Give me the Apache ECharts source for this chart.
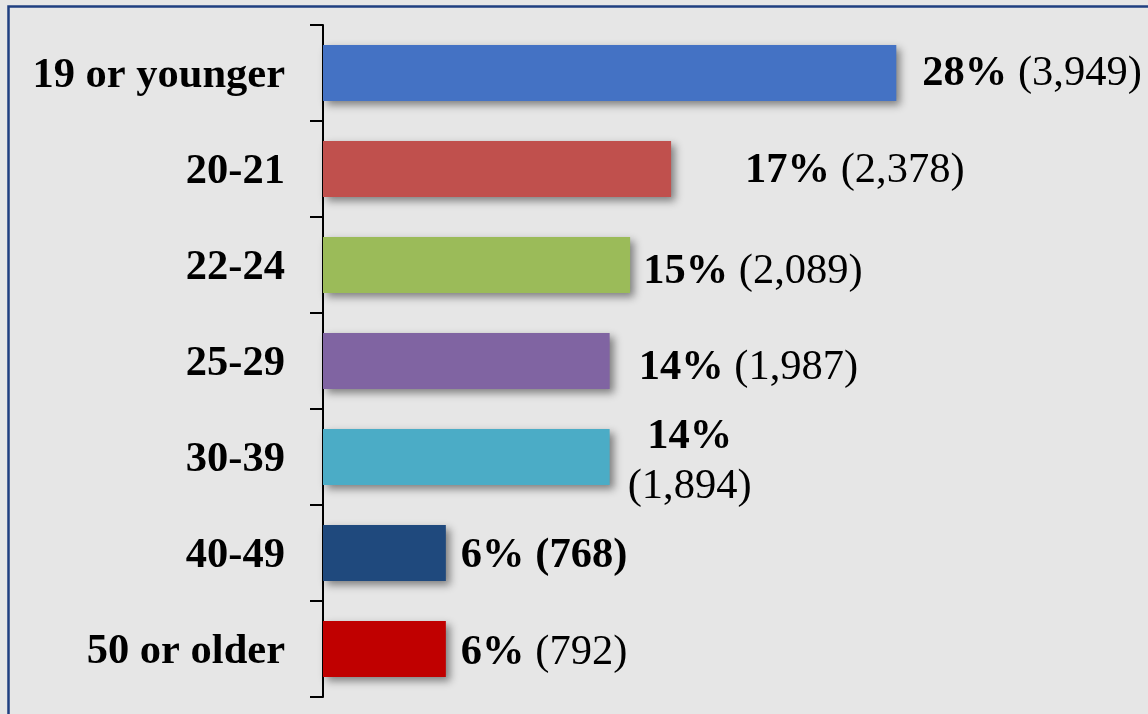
<!DOCTYPE html>
<html>
<head>
<meta charset="utf-8">
<style>
html,body{margin:0;padding:0;background:#e8e8e8;}
#c{width:1148px;height:714px;}
</style>
<script src="https://cdn.jsdelivr.net/npm/echarts@6/dist/echarts.min.js"></script>
</head>
<body>
<div id="c"></div>
<script>
// Data
const categories = ['19 or younger', '20-21', '22-24', '25-29', '30-39', '40-49', '50 or older'];
const percents = [28, 17, 15, 14, 14, 6, 6];
const counts = [3949, 2378, 2089, 1987, 1894, 768, 792];

// Styles (not data)
const colors = ['#4472C4', '#C0504D', '#9BBB59', '#8064A2', '#4BACC6', '#1F497D', '#C00000'];
const labelStyle = [
  {distance: 26, dy: 1},
  {distance: 74, dy: 2},
  {distance: 13, dy: 7},
  {distance: 29, dy: 7},
  {distance: 80, dy: 5, twoLine: true},
  {distance: 15, dy: 3, allBold: true},
  {distance: 15, dy: 4}
];

const FONT = '"Liberation Serif", "Times New Roman", serif';
const FS = 42.5;
const chart = echarts.init(document.getElementById('c'));

function fmtCount(n) { return n.toLocaleString('en-US'); }

const seriesData = percents.map((v, i) => {
  const st = labelStyle[i];
  const pct = v + '%';
  const cnt = '(' + fmtCount(counts[i]) + ')';
  let text;
  if (st.twoLine) text = '{b|' + pct + '}\n{n|' + cnt + '}';
  else if (st.allBold) text = '{b|' + pct + ' ' + cnt + '}';
  else text = '{b|' + pct + '}{n| ' + cnt + '}';
  return {
    value: v,
    itemStyle: {color: colors[i]},
    label: {
      show: true,
      position: 'right',
      distance: st.distance,
      align: st.twoLine ? 'center' : 'left',
      offset: [0, st.dy],
      formatter: text
    }
  };
});

chart.setOption({
  backgroundColor: '#e6e6e6',
  animation: false,
  graphic: [{
    type: 'rect',
    shape: {x: 8.5, y: 6.5, width: 1200, height: 800},
    style: {fill: 'none', stroke: '#1f3f80', lineWidth: 2.5},
    silent: true
  }],
  grid: {left: 323, top: 25, width: 819, height: 672},
  xAxis: {
    type: 'value', min: 0, max: 40, show: false
  },
  yAxis: {
    type: 'category',
    inverse: true,
    data: categories,
    axisLine: {show: true, lineStyle: {color: '#000', width: 2}},
    axisTick: {show: true, length: 13, lineStyle: {color: '#000', width: 2}},
    axisLabel: {
      margin: 38,
      color: '#000',
      formatter: '{c|{value}}',
      rich: {
        c: {fontFamily: FONT, fontWeight: 'bold', fontSize: FS, color: '#000', padding: [6, 0, 0, 0]}
      }
    }
  },
  series: [{
    type: 'bar',
    barWidth: 56,
    data: seriesData,
    itemStyle: {
      shadowBlur: 8,
      shadowOffsetX: 4,
      shadowOffsetY: 4,
      shadowColor: 'rgba(0,0,0,0.45)'
    },
    label: {
      show: true,
      color: '#000',
      fontFamily: FONT,
      fontSize: FS,
      lineHeight: 50,
      rich: {
        b: {fontFamily: FONT, fontSize: FS, fontWeight: 'bold', color: '#000', lineHeight: 50},
        n: {fontFamily: FONT, fontSize: FS, fontWeight: 'normal', color: '#000', lineHeight: 50}
      }
    }
  }]
});
</script>
</body>
</html>
